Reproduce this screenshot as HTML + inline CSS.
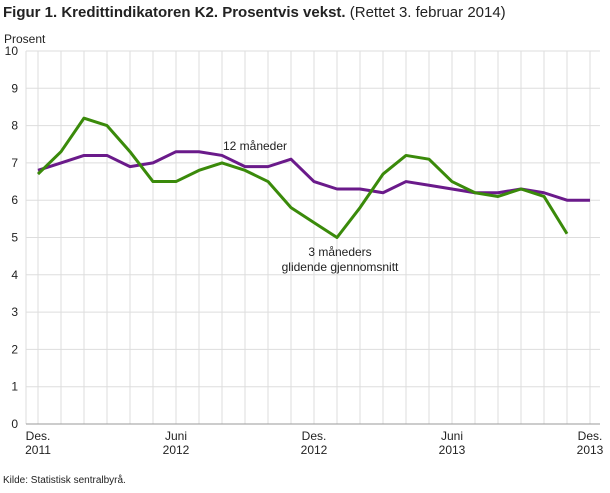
<!DOCTYPE html>
<html><head><meta charset="utf-8"><style>
body{margin:0;background:#fff;width:610px;height:488px;overflow:hidden;font-family:"Liberation Sans",sans-serif}
</style></head><body>
<svg id="s" width="610" height="488" xmlns="http://www.w3.org/2000/svg" font-family="Liberation Sans, sans-serif">
<text x="3" y="17" font-size="15" fill="#222"><tspan font-weight="bold">Figur 1. Kredittindikatoren K2. Prosentvis vekst.</tspan> (Rettet 3. februar 2014)</text>
<text x="4" y="43" font-size="12" fill="#222">Prosent</text>
<g id="grid"></g>
<line x1="26" y1="424" x2="600" y2="424" stroke="#999" stroke-width="1"/>
<g font-size="12" fill="#222" text-anchor="middle">
<text x="38" y="440">Des.</text><text x="38" y="454">2011</text>
<text x="176" y="440">Juni</text><text x="176" y="454">2012</text>
<text x="314" y="440">Des.</text><text x="314" y="454">2012</text>
<text x="452" y="440">Juni</text><text x="452" y="454">2013</text>
<text x="590" y="440">Des.</text><text x="590" y="454">2013</text>
<text x="255" y="150">12 måneder</text>
<text x="340" y="256">3 måneders</text>
<text x="340" y="271">glidende gjennomsnitt</text>
</g>
<text x="3" y="483" font-size="10" fill="#222">Kilde: Statistisk sentralbyrå.</text>
<polyline id="p" fill="none" stroke="#6a1a8a" stroke-width="3" stroke-linejoin="round"/>
<polyline id="g" fill="none" stroke="#3a8a0a" stroke-width="3" stroke-linejoin="round"/>
</svg>
<script>
var Y=function(v){return 424-37.3*v};
var grid=document.getElementById('grid'),h='';
h+='<line x1="26" x2="26" y1="51" y2="424" stroke="#ddd"/>';
for(var m=0;m<=24;m++){var x=38+23*m;h+='<line x1="'+x+'" x2="'+x+'" y1="51" y2="424" stroke="#ddd"/>';}
for(var i=0;i<=10;i++){var y=Y(i);
if(i>0)h+='<line x1="26" x2="600" y1="'+y+'" y2="'+y+'" stroke="#ddd"/>';
h+='<text x="18" y="'+(y+4)+'" font-size="12" fill="#222" text-anchor="end">'+i+'</text>';}
grid.innerHTML=h;
var P=[6.8,7.0,7.2,7.2,6.9,7.0,7.3,7.3,7.2,6.9,6.9,7.1,6.5,6.3,6.3,6.2,6.5,6.4,6.3,6.2,6.2,6.3,6.2,6.0,6.0];
var G=[6.7,7.3,8.2,8.0,7.3,6.5,6.5,6.8,7.0,6.8,6.5,5.8,5.4,5.0,5.8,6.7,7.2,7.1,6.5,6.2,6.1,6.3,6.1,5.1];
function pts(a){return a.map(function(v,i){return (38+23*i)+','+Y(v)}).join(' ')}
document.getElementById('p').setAttribute('points',pts(P));
document.getElementById('g').setAttribute('points',pts(G));
</script>
</body></html>
